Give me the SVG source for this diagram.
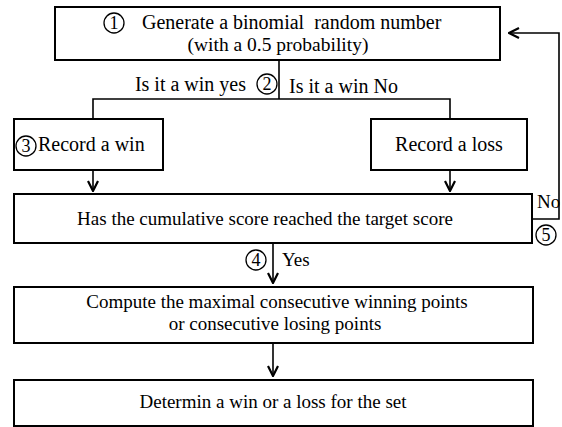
<svg xmlns="http://www.w3.org/2000/svg" width="562" height="427" viewBox="0 0 562 427">
<style>
.box{fill:#fff;stroke:#000;stroke-width:2}
.ln{fill:none;stroke:#000;stroke-width:1.6}
.t{font-family:'Liberation Serif','DejaVu Serif',serif;font-size:19px;fill:#000}
.l{font-size:20px}
.d{font-size:18px}
.m{text-anchor:middle}
.c{fill:none;stroke:#000;stroke-width:1.3}
</style>
<defs>
<marker id="ah" viewBox="0 0 12 12" refX="11" refY="6" markerWidth="12" markerHeight="12" markerUnits="userSpaceOnUse" orient="auto">
<path d="M1,1 L11,6 L1,11" fill="none" stroke="#000" stroke-width="2.2"/>
</marker>
</defs>
<rect width="562" height="427" fill="#fff"/>
<g id="connectors">
<path class="ln" d="M279,60 V99"/>
<path class="ln" d="M93,119 V99 H450 V119"/>
<path class="ln" d="M93,170 V191" marker-end="url(#ah)"/>
<path class="ln" d="M450,170 V191" marker-end="url(#ah)"/>
<path class="ln" d="M273,243 V283" marker-end="url(#ah)"/>
<path class="ln" d="M273,343 V376" marker-end="url(#ah)"/>
<path class="ln" d="M532,219 H559 V33 H509" marker-end="url(#ah)"/>
</g>
<g id="n1">
<rect class="box" x="55" y="7" width="445" height="53"/>
<circle class="c" cx="114" cy="23" r="10"/>
<text class="t d m" x="114" y="29">1</text>
<text class="t l" x="142" y="29" xml:space="preserve">Generate a binomial  random number</text>
<text class="t m" x="278" y="51" style="font-size:19.5px">(with a 0.5 probability)</text>
</g>
<g id="label2">
<text class="t l" x="246" y="91" text-anchor="end">Is it a win yes</text>
<circle class="c" cx="267" cy="84" r="10"/>
<text class="t d m" x="267" y="90">2</text>
<text class="t l" x="289" y="93">Is it a win No</text>
</g>
<g id="n3">
<rect class="box" x="14" y="119" width="149" height="51"/>
<circle class="c" cx="26" cy="146" r="10"/>
<text class="t d m" x="26" y="152">3</text>
<text class="t l" x="38" y="151">Record a win</text>
</g>
<g id="n4">
<rect class="box" x="371" y="119" width="156" height="51"/>
<text class="t l m" x="449" y="151">Record a loss</text>
</g>
<g id="n5">
<rect class="box" x="14" y="194" width="518" height="49"/>
<text class="t m" x="265" y="225">Has the cumulative score reached the target score</text>
</g>
<g id="label5">
<text class="t" x="537" y="208">No</text>
<circle class="c" cx="546" cy="235" r="10"/>
<text class="t d m" x="546" y="241">5</text>
</g>
<g id="label4">
<circle class="c" cx="256" cy="260" r="10"/>
<text class="t d m" x="256" y="266">4</text>
<text class="t" x="282" y="266">Yes</text>
</g>
<g id="n6">
<rect class="box" x="14" y="287" width="519" height="56"/>
<text class="t m" x="277" y="308">Compute the maximal consecutive winning points</text>
<text class="t m" x="275" y="330">or consecutive losing points</text>
</g>
<g id="n7">
<rect class="box" x="14" y="380" width="519" height="46"/>
<text class="t m" x="273" y="408">Determin a win or a loss for the set</text>
</g>
</svg>
